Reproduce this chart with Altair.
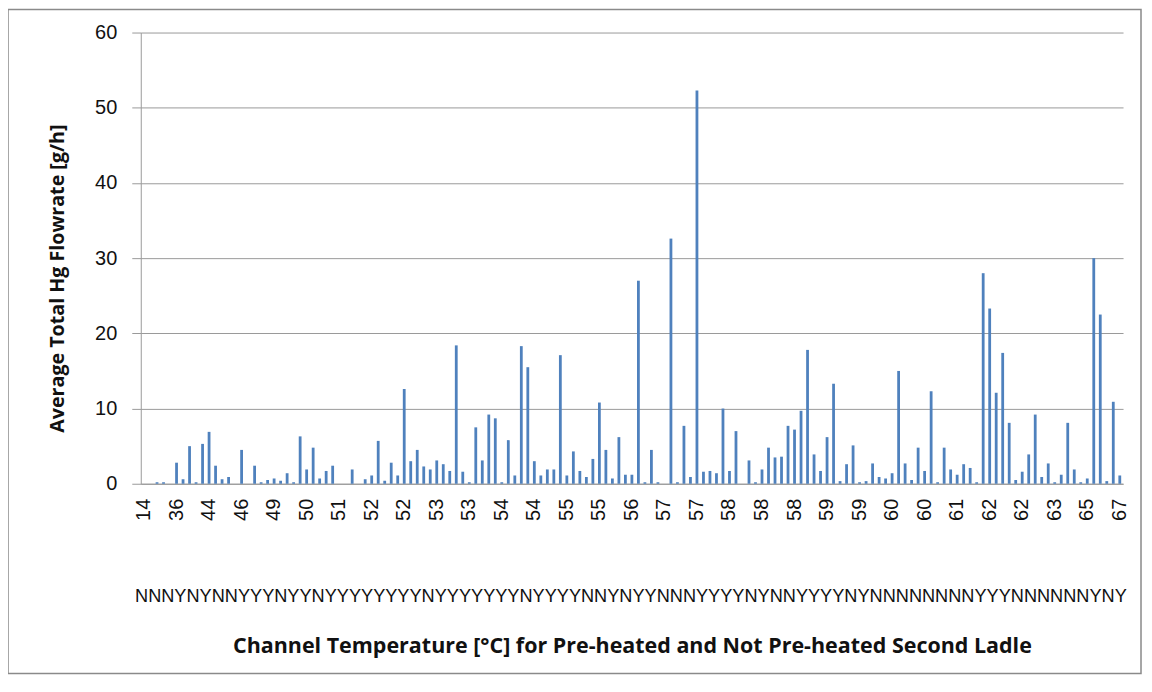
import altair as alt
import pandas as pd

# Average total Hg flowrate per run, in category order (left to right)
flow_values = [
    0, 0, 0.2, 0.2, 0, 2.8, 0.6, 5.0, 0.2, 5.3,
    6.9, 2.4, 0.6, 0.9, 0, 4.5, 0, 2.4, 0.2, 0.5,
    0.7, 0.4, 1.4, 0.2, 6.3, 1.9, 4.8, 0.7, 1.7, 2.4,
    0, 0, 1.9, 0, 0.6, 1.1, 5.7, 0.4, 2.8, 1.1,
    12.6, 3.0, 4.5, 2.3, 1.9, 3.1, 2.6, 1.7, 18.4, 1.6,
    0.2, 7.5, 3.1, 9.2, 8.7, 0.2, 5.8, 1.1, 18.3, 15.5,
    3.0, 1.1, 1.9, 1.9, 17.1, 1.1, 4.3, 1.7, 0.9, 3.3,
    10.8, 4.5, 0.7, 6.2, 1.2, 1.2, 27.0, 0.2, 4.5, 0.2,
    0, 32.6, 0.2, 7.7, 0.9, 52.3, 1.6, 1.7, 1.4, 10.0,
    1.7, 7.0, 0, 3.1, 0.2, 1.9, 4.8, 3.5, 3.6, 7.7,
    7.2, 9.7, 17.8, 3.9, 1.7, 6.2, 13.3, 0.35, 2.6, 5.1,
    0.2, 0.35, 2.7, 0.9, 0.7, 1.4, 15.0, 2.7, 0.5, 4.8,
    1.7, 12.3, 0.2, 4.8, 1.9, 1.2, 2.6, 2.1, 0.2, 28.0,
    23.3, 12.1, 17.4, 8.1, 0.5, 1.6, 3.9, 9.2, 0.9, 2.7,
    0.2, 1.2, 8.1, 1.9, 0.2, 0.7, 30.0, 22.5, 0.35, 10.9,
    1.1,
]

# Channel temperature labels shown on the axis (every 5th category)
temp_labels = [
    "14", "36", "44", "46", "49", "50", "51", "52", "52", "53", "53",
    "54", "54", "55", "55", "56", "57", "57", "58", "58", "58",
    "59", "59", "60", "60", "61", "62", "62", "63", "65", "67",
]
label_step = 5

# Pre-heated (Y) / not pre-heated (N) row of labels
preheat_flags = [
    "NNNYNYNNYYYNYYNYYYY",
    "YYYYNYYYYYYYNYYYYNN",
    "YNYYNNNYYYYNYNNYYYYNY",
    "NNNNNNNNYYYNNNNNNYNY",
]

x_title = "Channel Temperature [°C] for Pre-heated and Not Pre-heated Second Ladle"
y_title = "Average Total Hg Flowrate [g/h]"

cats = [f"c{i:03d}" for i in range(len(flow_values))]
df = pd.DataFrame({"cat": cats, "flow": flow_values})
lab_df = pd.DataFrame({
    "cat": [cats[i * label_step] for i in range(len(temp_labels))],
    "lab": temp_labels,
})
flag_df = pd.DataFrame({"t": ["".join(preheat_flags)]})
frame_df = pd.DataFrame({"a": [0]})

W, H = 984, 452
GRID = "#9a9a9a"

x_enc = alt.X(
    "cat:N",
    sort=cats,
    scale=alt.Scale(paddingInner=0, paddingOuter=0),
    axis=alt.Axis(
        labels=False,
        ticks=False,
        grid=False,
        domainColor=GRID,
        title=x_title,
        titleFont="Open Sans",
        titleFontSize=21.5,
        titleFontWeight="bold",
        titleColor="#111111",
        titleX=W / 2,
        titleY=163,
        titleBaseline="middle",
    ),
)

bars = alt.Chart(df).mark_bar(size=2.8, color="#4F81BD").encode(
    x=x_enc,
    y=alt.Y(
        "flow:Q",
        scale=alt.Scale(domain=[0, 60]),
        axis=alt.Axis(
            values=[0, 10, 20, 30, 40, 50, 60],
            tickSize=9,
            tickColor=GRID,
            gridColor=GRID,
            domainColor=GRID,
            labelFont="Liberation Sans",
            labelFontSize=20,
            labelColor="#111111",
            labelPadding=15,
            title=y_title,
            titleFont="Open Sans",
            titleFontSize=19.7,
            titleFontWeight="bold",
            titleColor="#111111",
            titleAngle=270,
            titleX=-83,
            titleY=246,
            titleBaseline="middle",
            titleAlign="center",
        ),
    ),
)

x_labels = alt.Chart(lab_df).mark_text(
    font="Liberation Sans", fontSize=20, color="#111111",
    angle=270, align="right", baseline="middle",
).encode(
    x=alt.X("cat:N", sort=cats),
    y=alt.value(H + 15),
    text="lab:N",
)

flags_text = alt.Chart(flag_df).mark_text(
    font="Liberation Sans", fontSize=18.2, color="#111111", align="center", baseline="middle"
).encode(x=alt.value(W / 2 - 1), y=alt.value(565), text="t:N")

frame = alt.Chart(frame_df).mark_rect(
    fillOpacity=0, stroke="#8a8a8a", strokeWidth=1.5
).encode(x=alt.value(-133), x2=alt.value(1002), y=alt.value(-23), y2=alt.value(642))

chart = alt.layer(frame, bars, x_labels, flags_text).properties(
    width=W,
    height=H,
    autosize=alt.AutoSizeParams(type="none"),
    padding={"left": 133, "top": 24, "right": 21, "bottom": 192},
).configure_view(strokeWidth=0)

chart.save("out.html", embed_options={"renderer": "svg", "actions": False})
